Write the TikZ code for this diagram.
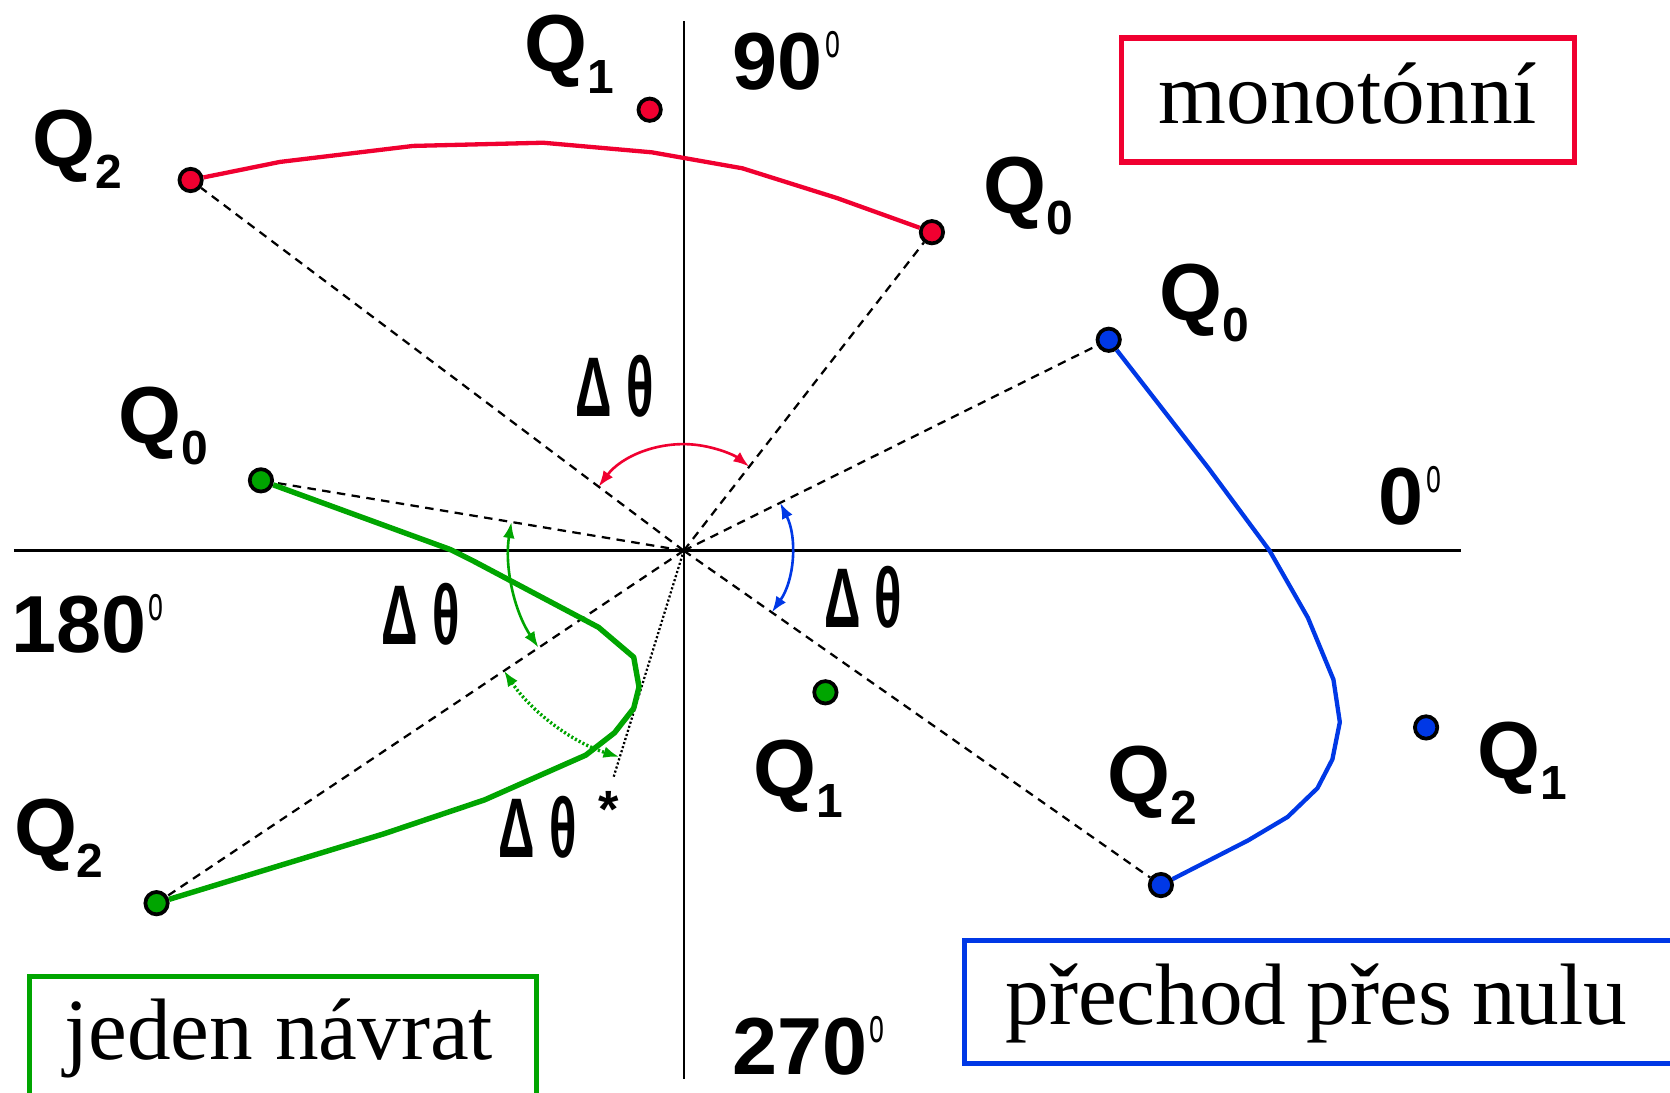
\documentclass[tikz,border=0pt]{standalone}
\usepackage{graphicx}
\usepackage{fontspec}
\setmainfont{Liberation Serif}
\newfontfamily\labfont{Liberation Sans}
\usetikzlibrary{arrows.meta}
\definecolor{cred}{RGB}{240,0,48}
\definecolor{cblue}{RGB}{0,56,230}
\definecolor{cgreen}{RGB}{0,165,0}
\newcommand\Qlab[1]{{\labfont\bfseries\fontsize{21.6}{22}\selectfont Q\raisebox{-5.8pt}{\fontsize{12.8}{13}\selectfont #1}}}
\newcommand\deglab[1]{{\labfont\bfseries\fontsize{21.6}{22}\selectfont #1\hspace{0.02cm}\raisebox{8.6pt}{\mdseries\fontsize{13}{13}\selectfont\scalebox{0.55}[1]{o}}}}
\newcommand\dthlab{{\labfont\bfseries\fontsize{22.6}{23}\selectfont\scalebox{0.6}[1]{Δ\ θ}}}
\begin{document}
\begin{tikzpicture}[x=0.01cm,y=-0.01cm,
  axis/.style={line width=0.65pt,black},
  dot/.style={circle,draw=black,line width=1pt,minimum size=0.21cm,inner sep=0pt},
  ray/.style={line width=0.6pt,black,dash pattern=on 0.08cm off 0.06cm},
  dotray/.style={line width=0.6pt,black,dash pattern=on 0.02cm off 0.02cm},
  rcurve/.style={line width=1.15pt,cred,line join=round},
  bcurve/.style={line width=1.15pt,cblue,line join=round},
  gcurve/.style={line width=1.45pt,cgreen,line join=round},
  arcarrow/.style={line width=0.7pt,{Latex[length=0.15cm,width=0.11cm]}-{Latex[length=0.15cm,width=0.11cm]}},
  lab/.style={anchor=base west,inner sep=0pt},
  legend/.style={draw,line width=1.4pt,inner ysep=0pt,font=\fontsize{23.3}{24}\selectfont}
]
\useasboundingbox (0,0) rectangle (1568,1026);
% axes
\coordinate (O) at (642,517);
\coordinate (axT) at (642,20);
\coordinate (axB) at (642,1013);
\coordinate (axL) at (13,517);
\coordinate (axR) at (1372,517);
\draw[axis] (axT) -- (axB);
\draw[axis] (axL) -- (axR);
% points
\node[dot,fill=cred] (rQ2) at (179,169) {};
\node[dot,fill=cred] (rQ0) at (875,218) {};
\node[dot,fill=cred] (rQ1) at (610,103) {};
\node[dot,fill=cblue] (bQ0) at (1041,319) {};
\node[dot,fill=cblue] (bQ2) at (1090,831) {};
\node[dot,fill=cblue] (bQ1) at (1339,683) {};
\node[dot,fill=cgreen] (gQ0) at (245,451) {};
\node[dot,fill=cgreen] (gQ2) at (147,848) {};
\node[dot,fill=cgreen] (gQ1) at (775,650) {};
\coordinate (dotend) at (576,730);
% rays
\draw[ray] (O) -- (rQ2);
\draw[ray] (O) -- (rQ0);
\draw[ray] (O) -- (bQ0);
\draw[ray] (O) -- (bQ2);
\draw[ray] (O) -- (gQ0);
\draw[ray] (O) -- (gQ2);
\draw[dotray] (O) -- (dotend);
% curves
\draw[rcurve] (rQ2) -- (263,152) -- (388,137) -- (510,134) -- (612,143) -- (697,158) -- (786,186) -- (rQ0);
\draw[bcurve] (bQ0) -- (1135,440) -- (1192,517) -- (1228,580) -- (1252,638) -- (1258,678) -- (1251,713) -- (1237,740) -- (1209,767) -- (1172,789) -- (bQ2);
\draw[gcurve] (gQ0) -- (423,516) -- (445,527) -- (562,589) -- (595,617) -- (600,645) -- (595,665) -- (577,688) -- (550,709) -- (455,751) -- (360,783) -- (255,815) -- (gQ2);
% angle arcs
\draw[arcarrow,cred] ([shift={(-143.1:100)}]O) arc[start angle=-143.1,end angle=-52.1,radius=100];
\draw[arcarrow,cblue] ([shift={(-26.45:101)}]O) arc[start angle=-26.45,end angle=35,radius=101];
\draw[arcarrow,cgreen] ([shift={(-170.6:164)}]O) arc[start angle=-170.6,end angle=-213.7,radius=164];
\draw[arcarrow,cgreen,dash pattern=on 0.02cm off 0.02cm,line width=0.9pt] ([shift={(-213.7:203)}]O) arc[start angle=-213.7,end angle=-252.7,radius=203];
% labels
\node[lab] (lrQ1) at (492,67.5) {\Qlab{1}};
\node[lab] (lrQ2) at (30,156.5) {\Qlab{2}};
\node[lab] (lrQ0) at (923,200) {\Qlab{0}};
\node[lab] (lbQ0) at (1088,300.5) {\Qlab{0}};
\node[lab] (lbQ2) at (1039,753.5) {\Qlab{2}};
\node[lab] (lbQ1) at (1386.5,730.5) {\Qlab{1}};
\node[lab] (lgQ0) at (111,416) {\Qlab{0}};
\node[lab] (lgQ2) at (12.5,803.5) {\Qlab{2}};
\node[lab] (lgQ1) at (707,747.6) {\Qlab{1}};
\node[lab] (d90) at (687.5,84) {\deglab{90}};
\node[lab] (d0) at (1294,492.6) {\deglab{0}};
\node[lab] (d180) at (10,613) {\deglab{180}};
\node[lab] (d270) at (687,1009) {\deglab{270}};
\node[lab] (rdth) at (540,391.5) {\dthlab};
\node[lab] (bdth) at (773,589) {\dthlab};
\node[lab] (gdth) at (357.5,605) {\dthlab};
\node[lab] (gdths) at (467.5,805) {\dthlab\hspace{0.2cm}\raisebox{8pt}{\labfont\bfseries\fontsize{14}{14}\selectfont *}};
% legends
\node[legend,draw=cred,minimum width=4.25cm,text height=0.804cm,text depth=0.36cm] (lmono) at (1265.5,93.8) {monotónní};
\node[legend,draw=cgreen,anchor=north west,minimum width=4.76cm,text height=0.775cm,text depth=0.7cm] (ljeden) at (25,914.5) {\hspace{-0.08cm}jeden návrat};
\node[legend,draw=cblue,anchor=north west,inner xsep=0.385cm,text height=0.785cm,text depth=0.37cm] (lpre) at (903,880.5) {\makebox[6.6cm][l]{přechod\hspace{0.19cm}přes\hspace{0.19cm}nulu}};
\end{tikzpicture}
\end{document}
